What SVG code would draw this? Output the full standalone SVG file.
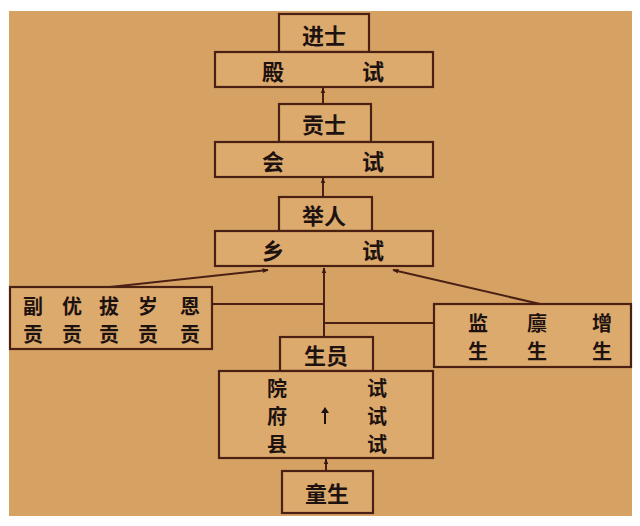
<svg xmlns="http://www.w3.org/2000/svg" width="640" height="526" viewBox="0 0 640 526">
<defs>
<marker id="ah" viewBox="0 0 10 10" refX="9" refY="5" markerWidth="6" markerHeight="6" orient="auto-start-reverse" markerUnits="userSpaceOnUse">
<path d="M0,1 L10,5 L0,9 z" fill="#3a1a10"/>
</marker>
<style>
.bx{fill:#dcaa6c;stroke:#4a2014;stroke-width:2.2}
.t{font-family:"Noto Sans CJK SC","Noto Sans CJK TC",sans-serif;font-weight:bold;font-size:22px;fill:#1e1210;text-anchor:middle;dominant-baseline:central}
.s{font-size:20px}
.c{stroke:#4a2014;stroke-width:2;fill:none}
</style>
</defs>
<rect x="0" y="0" width="640" height="526" fill="#ffffff"/>
<rect x="9" y="11" width="623" height="505" fill="#d6a264"/>
<g id="connectors">
<line class="c" x1="323" y1="104" x2="323" y2="88" marker-end="url(#ah)"/>
<line class="c" x1="323" y1="197" x2="323" y2="178" marker-end="url(#ah)"/>
<line class="c" x1="324" y1="337" x2="324" y2="268" marker-end="url(#ah)"/>
<line class="c" x1="110" y1="287" x2="268" y2="270" marker-end="url(#ah)"/>
<line class="c" x1="540" y1="304" x2="393" y2="270" marker-end="url(#ah)"/>
<line class="c" x1="212" y1="304" x2="324" y2="304"/>
<line class="c" x1="434" y1="323" x2="324" y2="323"/>
<line class="c" x1="326" y1="471" x2="326" y2="459" marker-end="url(#ah)"/>
</g>
<g id="jinshi"><rect class="bx" x="279" y="14" width="90" height="38"/><text class="t" x="324" y="34">进士</text></g>
<g id="dianshi"><rect class="bx" x="215" y="52" width="218" height="35"/><text class="t" x="273" y="70">殿</text><text class="t" x="373" y="70">试</text></g>
<g id="gongshi"><rect class="bx" x="279" y="104" width="92" height="38"/><text class="t" x="324" y="123">贡士</text></g>
<g id="huishi"><rect class="bx" x="215" y="142" width="218" height="35"/><text class="t" x="273" y="160">会</text><text class="t" x="373" y="160">试</text></g>
<g id="juren"><rect class="bx" x="279" y="197" width="93" height="34"/><text class="t" x="324" y="214">举人</text></g>
<g id="xiangshi"><rect class="bx" x="215" y="231" width="218" height="35"/><text class="t" x="273" y="249">乡</text><text class="t" x="373" y="249">试</text></g>
<g id="gong"><rect class="bx" x="10" y="287" width="202" height="62"/>
<text class="t s" x="33" y="305">副</text><text class="t s" x="33" y="333">贡</text>
<text class="t s" x="72" y="305">优</text><text class="t s" x="72" y="333">贡</text>
<text class="t s" x="109" y="305">拔</text><text class="t s" x="109" y="333">贡</text>
<text class="t s" x="148" y="305">岁</text><text class="t s" x="148" y="333">贡</text>
<text class="t s" x="190" y="305">恩</text><text class="t s" x="190" y="333">贡</text></g>
<g id="jiansheng"><rect class="bx" x="434" y="304" width="197" height="63"/>
<text class="t s" x="478" y="322">监</text><text class="t s" x="478" y="350">生</text>
<text class="t s" x="537" y="322">廪</text><text class="t s" x="537" y="350">生</text>
<text class="t s" x="602" y="322">增</text><text class="t s" x="602" y="350">生</text></g>
<g id="shengyuan"><rect class="bx" x="280" y="337" width="93" height="34"/><text class="t" x="326" y="354">生员</text></g>
<g id="yuanshi"><rect class="bx" x="219" y="371" width="214" height="87"/>
<text class="t s" x="277" y="387">院</text><text class="t s" x="277" y="415">府</text><text class="t s" x="277" y="443">县</text>
<text class="t s" x="377" y="387">试</text><text class="t s" x="377" y="415">试</text><text class="t s" x="377" y="443">试</text>
<line x1="325" y1="424" x2="325" y2="411" stroke="#1e1210" stroke-width="2"/><path d="M321,413 L325,407 L329,413 z" fill="#1e1210"/></g>
<g id="tongsheng"><rect class="bx" x="282" y="471" width="91" height="42"/><text class="t" x="327" y="492">童生</text></g>
</svg>
